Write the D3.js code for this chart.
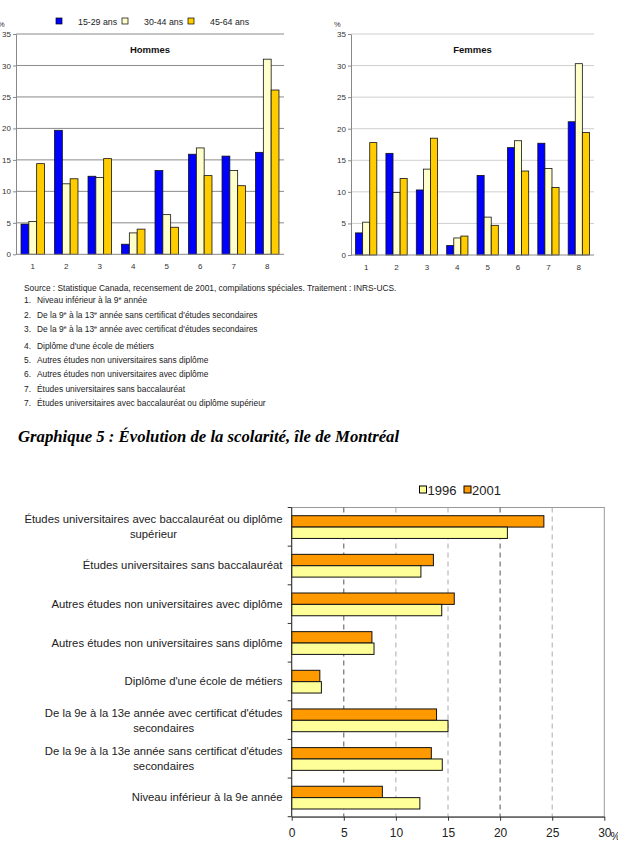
<!DOCTYPE html>
<html>
<head>
<meta charset="utf-8">
<script src="https://cdn.jsdelivr.net/npm/d3@7"></script>
<style>
  body { margin: 0; background: #fff; }
  text { font-family: "Liberation Sans", Arial, sans-serif; }
</style>
</head>
<body>
<svg id="chart"></svg>
<script>
// ---- data ----
const ages = ["15-29 ans", "30-44 ans", "45-64 ans"];
const niveaux = ["1", "2", "3", "4", "5", "6", "7", "8"];
const hommes1529 = [4.8, 19.7, 12.4, 1.6, 13.3, 15.9, 15.6, 16.2];
const hommes3044 = [5.2, 11.2, 12.2, 3.4, 6.3, 16.9, 13.3, 31.0];
const hommes4564 = [14.4, 12.0, 15.2, 4.0, 4.3, 12.5, 10.9, 26.1];
const femmes1529 = [3.5, 16.1, 10.3, 1.5, 12.6, 17.0, 17.7, 21.1];
const femmes3044 = [5.2, 9.9, 13.6, 2.7, 6.0, 18.1, 13.7, 30.3];
const femmes4564 = [17.8, 12.1, 18.5, 3.0, 4.7, 13.3, 10.7, 19.4];
const pctTicks = [0, 5, 10, 15, 20, 25, 30, 35];

const source = "Source : Statistique Canada, recensement de 2001, compilations spéciales. Traitement : INRS-UCS.";
// ^ marks a superscript letter
const notes = [
  "1.|Niveau inférieur à la 9^e année",
  "2.|De la 9^e à la 13^e année sans certificat d'études secondaires",
  "3.|De la 9^e à la 13^e année avec certificat d'études secondaires",
  "4.|Diplôme d'une école de métiers",
  "5.|Autres études non universitaires sans diplôme",
  "6.|Autres études non universitaires avec diplôme",
  "7.|Études universitaires sans baccalauréat",
  "7.|Études universitaires avec baccalauréat ou diplôme supérieur"
];

const titre = "Graphique 5 : Évolution de la scolarité, île de Montréal";
const annees = ["1996", "2001"];
const scolarite = [
  "Études universitaires avec baccalauréat ou diplôme\nsupérieur",
  "Études universitaires sans baccalauréat",
  "Autres études non universitaires avec diplôme",
  "Autres études non universitaires sans diplôme",
  "Diplôme d'une école de métiers",
  "De la 9e à la 13e année avec certificat d'études\nsecondaires",
  "De la 9e à la 13e année sans certificat d'études\nsecondaires",
  "Niveau inférieur à la 9e année"
];
const val1996 = [20.7, 12.4, 14.4, 7.9, 2.85, 15.0, 14.45, 12.3];
const val2001 = [24.2, 13.6, 15.6, 7.7, 2.7, 13.9, 13.4, 8.7];
const xTicks = [0, 5, 10, 15, 20, 25, 30];

// ---- setup ----
const svg = d3.select("#chart").attr("width", 618).attr("height", 857);
const ageColors = d3.scaleOrdinal().domain(ages).range(["#0000ff", "#ffffcc", "#ffcc00"]);

// top legend
const leg = svg.append("g");
const legX = [56, 122, 188];
ages.forEach((a, i) => {
  leg.append("rect").attr("x", legX[i]).attr("y", 18).attr("width", 6).attr("height", 6)
    .attr("fill", ageColors(a)).attr("stroke", "#000").attr("stroke-width", 0.7);
  leg.append("text").attr("x", legX[i] + 22).attr("y", 24.5)
    .attr("font-size", 8.8).attr("fill", "#222").text(a);
});

function smallChart(opts) {
  const g = svg.append("g");
  const x = d3.scaleBand().domain(niveaux).range([opts.left, opts.right])
    .paddingInner(0.3).paddingOuter(0.15);
  const sub = d3.scaleBand().domain(ages).range([0, x.bandwidth()]);
  const y = d3.scaleLinear().domain([0, 35]).range([opts.bottom, 34]);

  // gridlines
  g.selectAll(".grid").data(pctTicks.slice(1)).enter().append("line")
    .attr("x1", opts.left).attr("x2", opts.right)
    .attr("y1", d => y(d)).attr("y2", d => y(d))
    .attr("stroke", opts.grid).attr("stroke-width", 1);

  const ay = g.append("g").attr("transform", `translate(${opts.left},0)`)
    .call(d3.axisLeft(y).tickValues(pctTicks).tickSize(3).tickPadding(2).tickSizeOuter(0));
  ay.select(".domain").attr("stroke", "#888");
  ay.selectAll(".tick line").attr("stroke", "#888");
  ay.selectAll("text").attr("font-size", 8).attr("fill", "#333")
    .style("font-family", '"Liberation Sans", Arial, sans-serif');

  const series = ages.map((a, i) => opts.values[i].map((v, j) => ({ age: a, cat: niveaux[j], v })));
  g.selectAll(".s").data(series).enter().append("g")
    .selectAll("rect").data(d => d).enter().append("rect")
    .attr("x", d => x(d.cat) + sub(d.age))
    .attr("y", d => y(d.v))
    .attr("width", sub.bandwidth())
    .attr("height", d => y(0) - y(d.v))
    .attr("fill", d => ageColors(d.age))
    .attr("stroke", "#111").attr("stroke-width", 0.8);

  const ax = g.append("g").attr("transform", `translate(0,${opts.bottom})`)
    .call(d3.axisBottom(x).tickSize(0).tickPadding(9));
  ax.select(".domain").attr("stroke", "#888").attr("d", `M${opts.left},0H${opts.right}`);
  ax.selectAll("text").attr("font-size", 8).attr("fill", "#333")
    .style("font-family", '"Liberation Sans", Arial, sans-serif');

  g.append("text").attr("x", (opts.left + opts.right) / 2).attr("y", 53)
    .attr("text-anchor", "middle").attr("font-size", 9.5).attr("font-weight", "bold")
    .attr("fill", "#111").text(opts.title);
  g.append("text").attr("x", opts.pctX).attr("y", 27).attr("font-size", 7.5)
    .attr("fill", "#333").text("%");
}

smallChart({ left: 16, right: 284, bottom: 254.3, grid: "#8a8a8a", pctX: -2,
  title: "Hommes", values: [hommes1529, hommes3044, hommes4564] });
smallChart({ left: 351, right: 594, bottom: 255, grid: "#cfcfcf", pctX: 334,
  title: "Femmes", values: [femmes1529, femmes3044, femmes4564] });

// notes
const noteY = [291, 303, 318, 332, 349, 363, 377, 392, 406];
const noteFs = 8.4;
svg.append("text").attr("x", 24).attr("y", noteY[0]).attr("font-size", noteFs)
  .attr("fill", "#222").text(source);
notes.forEach((n, i) => {
  const [num, txt] = n.split("|");
  svg.append("text").attr("x", 24).attr("y", noteY[i + 1]).attr("font-size", noteFs)
    .attr("fill", "#222").text(num);
  const t = svg.append("text").attr("x", 37).attr("y", noteY[i + 1]).attr("font-size", noteFs)
    .attr("fill", "#222");
  let raised = false;
  txt.split(/(\^\w)/).filter(p => p.length).forEach(part => {
    if (part.startsWith("^")) {
      t.append("tspan").attr("font-size", 5.5).attr("dy", -3.2).text(part.slice(1));
      raised = true;
    } else {
      const s = t.append("tspan").text(part);
      if (raised) { s.attr("dy", 3.2); raised = false; }
    }
  });
});

// title
svg.append("text").attr("x", 18).attr("y", 442)
  .style("font-family", '"Liberation Serif", "Times New Roman", serif')
  .attr("font-size", 16.7).attr("font-weight", "bold").attr("font-style", "italic")
  .attr("fill", "#000").text(titre);

// ---- bottom chart ----
const yearColors = d3.scaleOrdinal().domain(annees).range(["#ffff99", "#ff9900"]);
const bx = d3.scaleLinear().domain([0, 30]).range([291.7, 604.3]);
const by = d3.scaleBand().domain(scolarite).range([507.5, 816.7]);
const byy = d3.scaleBand().domain(["2001", "1996"]).range([8.2, by.bandwidth() - 7.7]);

const bg = svg.append("g");
// frame
bg.append("rect").attr("x", bx(0)).attr("y", 507.5).attr("width", bx(30) - bx(0))
  .attr("height", 816.7 - 507.5).attr("fill", "none").attr("stroke", "#999").attr("stroke-width", 1);
// dashed gridlines
bg.selectAll(".vg").data(xTicks.slice(1, -1)).enter().append("line")
  .attr("x1", d => bx(d)).attr("x2", d => bx(d)).attr("y1", 507.5).attr("y2", 816.7)
  .attr("stroke", (d, i) => i % 3 === 0 ? "#555" : "#aaa")
  .attr("stroke-width", 1).attr("stroke-dasharray", "5,4");

const rows = scolarite.map((c, i) => [
  { cat: c, year: "2001", v: val2001[i] },
  { cat: c, year: "1996", v: val1996[i] }
]).flat();
bg.selectAll(".hb").data(rows).enter().append("rect")
  .attr("x", bx(0))
  .attr("y", d => by(d.cat) + byy(d.year))
  .attr("width", d => bx(d.v) - bx(0))
  .attr("height", byy.bandwidth())
  .attr("fill", d => yearColors(d.year))
  .attr("stroke", "#111").attr("stroke-width", 1);

// axes
const xa = bg.append("g").attr("transform", "translate(0,816.7)")
  .call(d3.axisBottom(bx).tickValues(xTicks).tickSize(4).tickPadding(8).tickSizeOuter(0));
xa.select(".domain").attr("stroke", "#333");
xa.selectAll(".tick line").attr("stroke", "#333");
xa.selectAll("text").attr("font-size", 12).attr("fill", "#222")
  .style("font-family", '"Liberation Sans", Arial, sans-serif');
bg.append("text").attr("x", 610.5).attr("y", 840).attr("font-size", 11).attr("fill", "#222").text("%");

bg.append("line").attr("x1", bx(0)).attr("x2", bx(0)).attr("y1", 507.5).attr("y2", 816.7)
  .attr("stroke", "#333");
bg.selectAll(".yt").data(scolarite.concat([null])).enter().append("line")
  .attr("x1", bx(0) - 4).attr("x2", bx(0))
  .attr("y1", d => d === null ? 816.7 : by(d)).attr("y2", d => d === null ? 816.7 : by(d))
  .attr("stroke", "#333");

// category labels: block right-aligned, lines centred on each other
scolarite.forEach(c => {
  const lines = c.split("\n");
  const cy = by(c) + by.bandwidth() / 2;
  const t = bg.append("text").attr("font-size", 11.3).attr("fill", "#222").attr("text-anchor", "middle");
  const spans = lines.map((l, k) =>
    t.append("tspan").attr("y", cy + 4 + (k - (lines.length - 1) / 2) * 15).text(l));
  const maxW = d3.max(spans, s => s.node().getComputedTextLength());
  spans.forEach(s => s.attr("x", 282.5 - maxW / 2));
});

// legend
const bl = svg.append("g");
const blX = [419.5, 464];
annees.forEach((a, i) => {
  bl.append("rect").attr("x", blX[i]).attr("y", 486).attr("width", 7).attr("height", 7)
    .attr("fill", yearColors(a)).attr("stroke", "#000").attr("stroke-width", 1);
  bl.append("text").attr("x", blX[i] + 8).attr("y", 494.5).attr("font-size", 13)
    .attr("fill", "#222").text(a);
});
</script>
</body>
</html>
